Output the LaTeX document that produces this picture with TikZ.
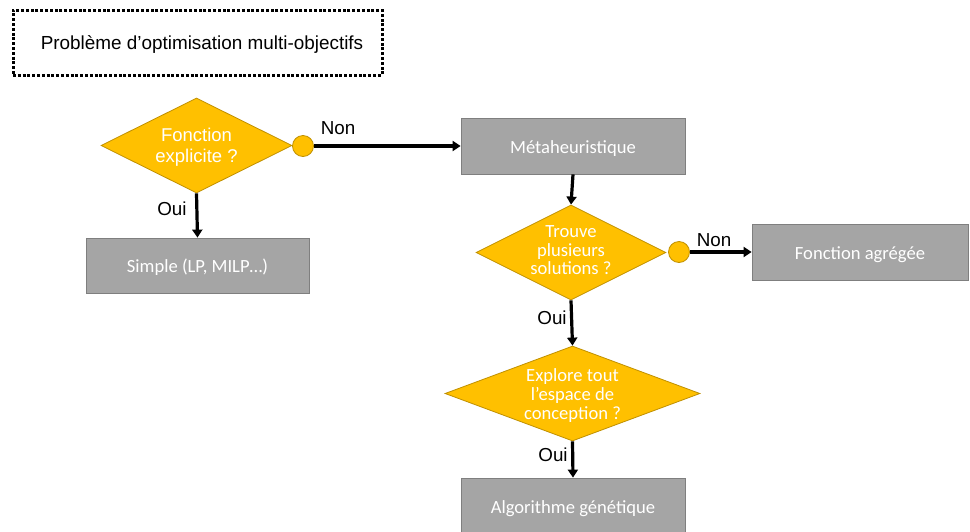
\documentclass[tikz,border=0pt]{standalone}
\usepackage{fontspec}
\setmainfont{Liberation Sans}
\newfontfamily\calfont{Carlito}
\usetikzlibrary{shapes.geometric,arrows.meta}
\definecolor{gold}{HTML}{FFC000}
\definecolor{golddark}{HTML}{C09000}
\definecolor{boxgray}{HTML}{A5A5A5}
\definecolor{boxedge}{HTML}{7F7F7F}
\begin{document}
\begin{tikzpicture}[x=1pt,y=-1pt,
  decision/.style={shape=diamond, fill=gold, draw=golddark, line width=0.8pt, inner sep=0pt},
  dtext/.style={text=white, align=center, inner sep=0pt},
  grayrect/.style={rectangle, fill=boxgray, draw=boxedge, line width=0.8pt, text=white, text height=18pt, text depth=4pt, font=\calfont\fontsize{18.6}{22}\selectfont},
  joint/.style={circle, fill=gold, draw=golddark, line width=0.8pt, minimum size=21pt, inner sep=0pt},
  flow/.style={line width=3.2pt, -{Triangle[length=8pt,width=10pt]}},
  lbl/.style={font=\fontsize{18.8}{22}\selectfont, text=black}]
\useasboundingbox (0,0) rectangle (970,531);
\fill[white] (0,0) rectangle (970,531);
% title
\node[draw=black, line width=3pt, dash pattern=on 3pt off 1.8pt, minimum width=369pt, minimum height=65pt] (title) at (197.5,42.5) {};
\node[font=\fontsize{18.9}{22}\selectfont, inner sep=0pt] (titletext) at (202,44.5) {Problème d’optimisation multi-objectifs};
% diamonds
\node[decision, minimum width=191pt, minimum height=95pt] (d1) at (196.5,145.5) {};
\node[dtext, font=\fontsize{18.5}{21}\selectfont] (t1) at (196.5,147) {Fonction\\explicite ?};
\node[decision, minimum width=190pt, minimum height=95pt] (d2) at (571,252.5) {};
\node[dtext, font=\calfont\fontsize{18.6}{18.5}\selectfont] (t2) at (571,250.5) {Trouve\\plusieurs\\solutions ?};
\node[decision, minimum width=255pt, minimum height=95pt] (d3) at (572.5,393.5) {};
\node[dtext, font=\calfont\fontsize{18.6}{19}\selectfont] (t3) at (572.5,396) {Explore tout\\l’espace de\\conception ?};
% joints
\node[joint] (c1) at (303,146) {};
\node[joint] (c2) at (679,252) {};
% boxes
\node[grayrect, minimum width=224pt, minimum height=56pt] (meta) at (573,146) {Métaheuristique};
\node[grayrect, minimum width=223pt, minimum height=55pt] (simple) at (197.5,265.5) {Simple (LP, MILP…)};
\node[grayrect, minimum width=216pt, minimum height=56pt] (agg) at (860,252) {Fonction agrégée};
\node[grayrect, minimum width=224pt, minimum height=56pt] (algo) at (573,506) {Algorithme génétique};
% connectors
\draw[flow] (c1) -- (meta.west);
\draw[flow] (d1.south) -- (simple.north);
\draw[flow] (meta.south) -- (d2.north);
\draw[flow] (c2) -- (agg.west);
\draw[flow] (d2.south) -- (d3.north);
\draw[flow] (d3.south) -- (algo.north);
% labels
\node[lbl] (n1) at (338,128) {Non};
\node[lbl] (n2) at (714,240) {Non};
\node[lbl] (o1) at (172,209) {Oui};
\node[lbl] (o2) at (552,318) {Oui};
\node[lbl] (o3) at (553,455) {Oui};
\end{tikzpicture}
\end{document}
